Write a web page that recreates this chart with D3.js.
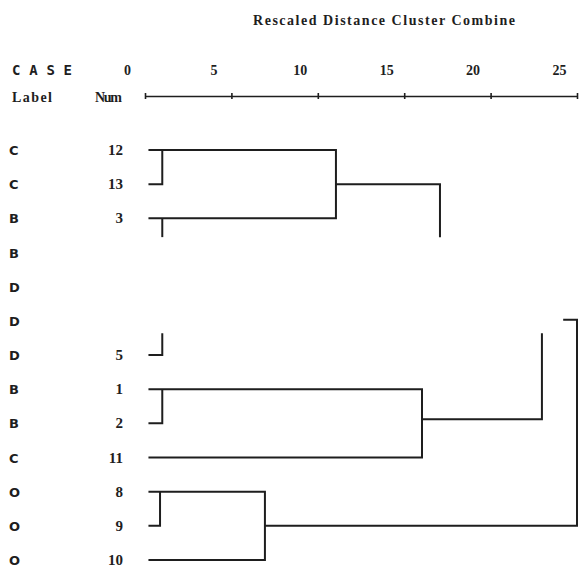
<!DOCTYPE html>
<html>
<head>
<meta charset="utf-8">
<style>
  body { margin: 0; background: #fff; }
</style>
<script src="https://cdn.jsdelivr.net/npm/d3@7"></script>
</head>
<body>
<script>
// case labels and numbers, top to bottom (blank numbers are missing in the scan)
var caseLabels = ["C", "C", "B", "B", "D", "D", "D", "B", "B", "C", "O", "O", "O"];
var caseNums = ["12", "13", "3", "", "", "", "5", "1", "2", "11", "8", "9", "10"];
var tickValues = [0, 5, 10, 15, 20, 25];

// dendrogram lines as polylines of [distance, row]
var links = [
    [[0.2, 0], [11.05, 0], [11.05, 2], [0.2, 2]],
    [[1.0, 0], [1.0, 1], [0.2, 1]],
    [[1.0, 2], [1.0, 2.55]],
    [[11.05, 1], [17.07, 1], [17.07, 2.55]],
    [[1.0, 5.36], [1.0, 6], [0.2, 6]],
    [[0.2, 7], [16.03, 7], [16.03, 9], [0.2, 9]],
    [[1.0, 7], [1.0, 8], [0.2, 8]],
    [[16.03, 7.88], [22.97, 7.88], [22.97, 5.36]],
    [[24.2, 4.97], [25.0, 4.97], [25.0, 11], [6.94, 11]],
    [[0.2, 10], [6.94, 10], [6.94, 12], [0.2, 12]],
    [[0.87, 10], [0.87, 11], [0.2, 11]]
];

var w = 582, h = 572;
var svg = d3.select("body").append("svg")
    .attr("width", w)
    .attr("height", h);

var x = d3.scaleLinear().domain([0, 25]).range([145, 577]);
var y = d3.scaleLinear().domain([0, 12]).range([150, 560]);

var ink = "#1e1e1e";

// title
svg.append("text")
    .attr("x", 384).attr("y", 25)
    .attr("text-anchor", "middle")
    .attr("font-family", "Liberation Serif")
    .attr("font-weight", "bold")
    .attr("font-size", "14px")
    .attr("textLength", 262)
    .attr("fill", ink)
    .text("Rescaled Distance Cluster Combine");

// header
svg.append("text")
    .attr("x", 12).attr("y", 75)
    .attr("font-family", "DejaVu Sans Mono")
    .attr("font-weight", "bold")
    .attr("font-size", "14px")
    .attr("textLength", 60)
    .attr("fill", ink)
    .text("CASE");
svg.append("text")
    .attr("x", 12).attr("y", 102)
    .attr("font-family", "Liberation Serif")
    .attr("font-weight", "bold")
    .attr("font-size", "14px")
    .attr("textLength", 40)
    .attr("fill", ink)
    .text("Label");
svg.append("text")
    .attr("x", 95).attr("y", 102)
    .attr("font-family", "Liberation Serif")
    .attr("font-weight", "bold")
    .attr("font-size", "14px")
    .attr("textLength", 27)
    .attr("fill", ink)
    .text("Num");

// axis
var axis = svg.append("g")
    .attr("transform", "translate(0,96)")
    .call(d3.axisTop(x).tickValues(tickValues).tickSizeInner(3).tickSizeOuter(0).tickPadding(18));
axis.select(".domain").attr("stroke", ink).attr("stroke-width", 1.6);
axis.selectAll(".tick line").attr("stroke", ink).attr("stroke-width", 1.6).attr("y1", 3).attr("y2", -3);
axis.selectAll(".tick text")
    .attr("dx", -18)
    .attr("font-family", "Liberation Serif")
    .attr("font-weight", "bold")
    .attr("font-size", "14px")
    .attr("fill", ink);

// row labels
svg.selectAll("text.lab")
    .data(caseLabels)
    .enter().append("text")
    .attr("class", "lab")
    .attr("x", 9)
    .attr("y", function (d, i) { return y(i) + 5; })
    .attr("font-family", "DejaVu Sans")
    .attr("font-weight", "bold")
    .attr("font-size", "13px")
    .attr("fill", ink)
    .text(function (d) { return d; });

svg.selectAll("text.num")
    .data(caseNums)
    .enter().append("text")
    .attr("class", "num")
    .attr("x", 123)
    .attr("y", function (d, i) { return y(i) + 5; })
    .attr("text-anchor", "end")
    .attr("font-family", "Liberation Serif")
    .attr("font-weight", "bold")
    .attr("font-size", "15px")
    .attr("fill", ink)
    .text(function (d) { return d; });

// tree
var line = d3.line()
    .x(function (p) { return x(p[0]); })
    .y(function (p) { return y(p[1]); });

svg.selectAll("path.link")
    .data(links)
    .enter().append("path")
    .attr("class", "link")
    .attr("d", line)
    .attr("fill", "none")
    .attr("stroke", ink)
    .attr("stroke-width", 2)
    .attr("stroke-linejoin", "miter");
</script>
</body>
</html>
